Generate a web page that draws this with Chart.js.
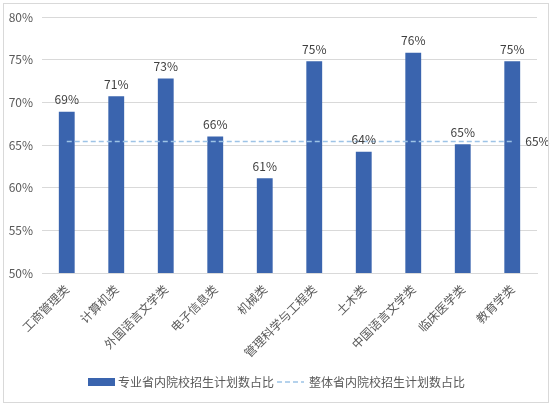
<!DOCTYPE html>
<html>
<head>
<meta charset="utf-8">
<script src="https://cdn.jsdelivr.net/npm/chart.js@4.4.1/dist/chart.umd.min.js"></script>
<style>
  html, body { margin: 0; padding: 0; background: #fff; }
  #wrap { width: 558px; height: 409px; position: relative; }
</style>
</head>
<body>
<div id="wrap"><canvas id="c" width="558" height="409"></canvas></div>
<script>
  const categories = ['工商管理类', '计算机类', '外国语言文学类', '电子信息类', '机械类', '管理科学与工程类', '土木类', '中国语言文学类', '临床医学类', '教育学类'];
  const majorShare = [68.9, 70.7, 72.8, 66.0, 61.1, 74.8, 64.2, 75.8, 65.1, 74.8];
  const overallShare = 65.4;
  const overallLine = categories.map(() => overallShare);
  const yMin = 50, yMax = 80, yStep = 5;
  const seriesNames = ['专业省内院校招生计划数占比', '整体省内院校招生计划数占比'];

  const FONT = '"Noto Sans CJK SC", "Noto Sans", sans-serif';
  const BAR = '#3a64ae';
  const DASH = '#9dc3e6';

  function pct(v){ return Math.round(v) + '%'; }

  const labelsPlugin = {
    id: 'valueLabels',
    afterDatasetsDraw(chart){
      const ctx = chart.ctx;
      ctx.save();
      ctx.font = '12px ' + FONT;
      ctx.fillStyle = '#404040';
      const bars = chart.getDatasetMeta(0);
      ctx.textAlign = 'center';
      ctx.textBaseline = 'bottom';
      bars.data.forEach((el, i) => { ctx.fillText(pct(majorShare[i]), el.x, el.y - 6); });
      const line = chart.getDatasetMeta(1);
      const last = line.data[line.data.length - 1];
      ctx.textAlign = 'left';
      ctx.textBaseline = 'middle';
      ctx.fillText(pct(overallShare), last.x + 13, last.y);
      ctx.restore();
    }
  };

  const framePlugin = {
    id: 'frame',
    beforeDraw(chart){
      const ctx = chart.ctx;
      ctx.save();
      ctx.fillStyle = '#fff';
      ctx.fillRect(0, 0, chart.width, chart.height);
      ctx.restore();
    },
    afterDraw(chart){
      const ctx = chart.ctx;
      ctx.save();
      ctx.strokeStyle = '#d9d9d9';
      ctx.lineWidth = 1;
      ctx.strokeRect(3.5, 3.5, 545, 399);
      // legend
      const y = 382;
      ctx.fillStyle = BAR;
      ctx.fillRect(88, y - 4, 27, 8);
      ctx.font = '12px ' + FONT;
      ctx.fillStyle = '#595959';
      ctx.textBaseline = 'middle';
      ctx.textAlign = 'left';
      ctx.fillText(seriesNames[0], 118, y);
      ctx.strokeStyle = DASH;
      ctx.lineWidth = 1.5;
      ctx.setLineDash([5, 3]);
      ctx.beginPath();
      ctx.moveTo(277, y);
      ctx.lineTo(304, y);
      ctx.stroke();
      ctx.setLineDash([]);
      ctx.fillText(seriesNames[1], 309, y);
      ctx.restore();
    }
  };

  new Chart(document.getElementById('c'), {
    data: {
      labels: categories,
      datasets: [
        { type: 'bar', label: seriesNames[0], data: majorShare, backgroundColor: BAR, categoryPercentage: 1, barPercentage: 0.32, order: 1 },
        { type: 'line', label: seriesNames[1], data: overallLine, borderColor: DASH, borderWidth: 1.5, borderDash: [5, 3], pointRadius: 0, fill: false, order: 0 }
      ]
    },
    options: {
      responsive: false,
      animation: false,
      layout: { padding: { top: 17, right: 21, left: 0, bottom: 0 } },
      plugins: { legend: { display: false }, tooltip: { enabled: false } },
      scales: {
        x: {
          offset: true,
          grid: { display: false, drawTicks: false },
          border: { color: '#d9d9d9' },
          ticks: { autoSkip: false, maxRotation: 45, minRotation: 45, padding: 9, color: '#595959', font: { family: FONT, size: 12 } },
          afterFit(s){ s.height = 136; }
        },
        y: {
          min: yMin, max: yMax,
          grid: { color: '#d9d9d9', drawTicks: false },
          border: { display: false },
          ticks: { stepSize: yStep, padding: 9, color: '#595959', font: { family: FONT, size: 12 }, callback: v => v + '%' },
          afterFit(s){ s.width = 42; }
        }
      }
    },
    plugins: [labelsPlugin, framePlugin]
  });
</script>
</body>
</html>
